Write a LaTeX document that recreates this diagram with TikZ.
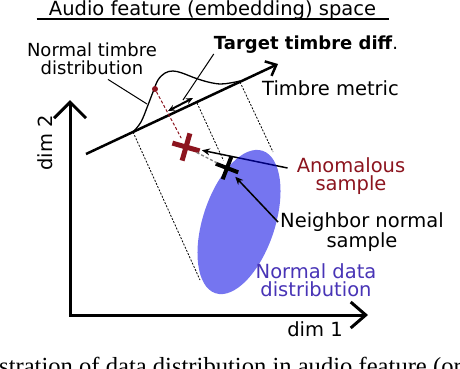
\documentclass[tikz,border=0pt]{standalone}
\usepackage{fontspec}
\setmainfont{DejaVu Sans}
\newfontfamily\capfont{Liberation Serif}
\usetikzlibrary{arrows.meta,shapes.geometric,shapes.misc}
\definecolor{anomred}{RGB}{140,20,30}
\definecolor{normfill}{RGB}{0,0,227}
\definecolor{normtext}{RGB}{72,52,182}
\begin{document}
\begin{tikzpicture}[x=1pt,y=-1pt,
  lbl/.style={inner sep=0pt, align=center, font=\fontsize{19.5}{18.5}\selectfont},
  proj/.style={line width=0.8pt, dash pattern=on 2pt off 1.5pt},
  lead/.style={line width=1.5pt, shorten >=3pt, -{Stealth[length=8pt,width=7pt]}}]
\useasboundingbox (0,0) rectangle (460,368);
\clip (0,0) rectangle (460,368);

\node[lbl, font=\fontsize{19.5}{20}\selectfont, anchor=base] (title) at (212.5,15) {Audio feature (embedding) space};
\draw[line width=2pt] ([xshift=-12pt,yshift=-4pt]title.base west) -- ([xshift=13pt,yshift=-4pt]title.base east);

\coordinate (origin) at (70,315);
\coordinate (ytip) at (70,100);
\coordinate (xtip) at (368,315);
\draw[line width=3pt, {Straight Barb[length=16pt,width=32pt,line width=3pt]}-{Straight Barb[length=15pt,width=26pt,line width=3pt]}] (ytip) -- (origin) -- (xtip);
\node[lbl, rotate=90] (dimtwo) at (45,143) {dim 2};
\node[lbl] (dimone) at (315,329) {dim 1};

\coordinate (p1a) at (133,132);
\coordinate (p1b) at (200,280);
\coordinate (p2a) at (197,103);
\coordinate (p3a) at (240,82);
\coordinate (p3b) at (273,152);
\draw[proj] (p1a) -- (p1b);
\draw[proj] (p3a) -- (p3b);

\node[cross out, draw=anomred, line width=5pt, minimum size=15pt, rotate=29] (anom) at (186,147) {};
\node[lbl, text=anomred] (anomtext) at (351,176) {Anomalous\\sample};
\draw[lead] ([xshift=-9pt,yshift=8pt]anomtext.west) -- (anom);

\node[ellipse, fill=normfill, fill opacity=0.54, inner sep=0pt, minimum width=150pt, minimum height=72pt, rotate=71.7] (normdata) at (239,222) {};

\node[cross out, draw, line width=4pt, minimum size=13pt, rotate=24] (neigh) at (227,168) {};
\draw[proj] (p2a) -- (neigh);
\draw[line width=1.3pt, gray, dash pattern=on 3pt off 2pt] (anom) -- (neigh);

\node[lbl] (neightext) at (362,232) {Neighbor normal\\sample};
\draw[lead] ([xshift=-2pt,yshift=10pt]neightext.west) -- (neigh);
\node[lbl, text=normtext] (datatext) at (316,280) {Normal data\\distribution};

\coordinate (tstart) at (86,154);
\coordinate (ttip) at (278,64);
\draw[line width=2.5pt, -{Straight Barb[length=9pt,width=16pt,line width=2.5pt]}] (tstart) -- (ttip);
\node[lbl, anchor=west] (metric) at (262,88) {Timbre metric};

\draw[line width=1.3pt] plot[smooth, tension=0.6] coordinates {(133,132) (141,122) (148,105) (153,92) (158,80) (165,73) (173,71) (182,73) (195,78) (208,82) (220,84) (230,83) (240,81)};
\node[circle, fill=anomred, inner sep=0pt, minimum size=6pt] (peakdot) at (155,89) {};
\draw[draw=anomred, line width=1pt, dash pattern=on 3pt off 2pt] (peakdot) -- (anom);

\node[lbl, font=\fontsize{18}{18.5}\selectfont] (timbredist) at (92,59) {Normal timbre\\distribution};
\coordinate (bellside) at (147,104);
\draw[line width=1pt] ([xshift=16pt,yshift=-4pt]timbredist.south) -- (bellside);

\coordinate (diffl) at (168,111);
\coordinate (diffr) at (193,98);
\draw[line width=2pt, {Stealth[length=7pt,width=6pt]}-{Stealth[length=7pt,width=6pt]}] (diffl) -- (diffr);
\node[lbl, font=\fontsize{18}{18.5}\selectfont] (target) at (306,45) {\textbf{Target timbre diff}.};
\coordinate (diffmid) at (183,100);
\draw[line width=1pt] (target.south west) -- (diffmid);

\node[anchor=base west, inner sep=0pt, font=\capfont\fontsize{24.6}{26}\selectfont] (caption) at (-1,374) {stration of data distribution in audio feature (or};
\end{tikzpicture}
\end{document}
